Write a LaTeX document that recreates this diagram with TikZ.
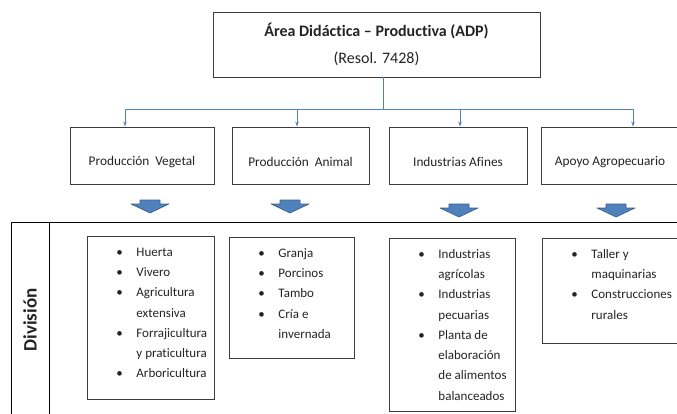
\documentclass[tikz,border=0pt]{standalone}
\usepackage{fontspec}
\setmainfont{Carlito}[Ligatures={NoCommon}]
\usetikzlibrary{arrows.meta}

\definecolor{linkblue}{RGB}{79,129,189}
\definecolor{arrowline}{RGB}{56,93,138}
\definecolor{boxline}{RGB}{60,60,60}
\definecolor{ink}{RGB}{35,35,35}

\newcommand{\bulletbox}[3]{%
  \begin{minipage}[t][#2bp][t]{#1bp}
    \vspace*{5.5bp}\hspace*{29bp}%
    \begin{tabular}[t]{@{}p{20bp}@{}l@{}}#3\end{tabular}%
  \end{minipage}}

\tikzset{
  areabox/.style={draw=boxline, line width=0.9bp, align=center, text=ink,
    font=\fontsize{16bp}{27bp}\selectfont},
  unitbox/.style={draw=boxline, line width=0.9bp, minimum height=57bp,
    text=ink, text height=22bp, font=\fontsize{13.3bp}{16bp}\selectfont},
  listbox/.style={draw=boxline, line width=0.9bp, inner sep=0pt, anchor=north west,
    text=ink, font=\fontsize{13bp}{20.3bp}\selectfont},
  link/.style={draw=linkblue, line width=0.8bp},
  blockarrow/.style={fill=linkblue, draw=arrowline, line width=0.6bp, line join=round},
  rule/.style={draw=black, line width=1bp}
}

\begin{document}
\begin{tikzpicture}[x=1bp, y=-1bp]
\useasboundingbox (0,0) rectangle (677,413);
\clip (0,0) rectangle (677,413);

% top
\node[areabox, minimum width=327bp, minimum height=65bp] (adp) at (376.5,44.5)
  {\textbf{Área Didáctica – Productiva (ADP)}\\(Resol. 7428)};

% units
\node[unitbox, minimum width=144bp] (veg) at (142,155.5) {Producción~ Vegetal};
\node[unitbox, minimum width=137bp] (ani) at (300.5,155.5) {Producción~ Animal};
\node[unitbox, minimum width=138bp] (ind) at (458,155.5) {Industrias Afines};
\node[unitbox, minimum width=138bp] (apo) at (610,155.5) {Apoyo Agropecuario};

% bus
\coordinate (bus) at (383,109);
\coordinate (d1) at (125,109);
\coordinate (d2) at (297,109);
\coordinate (d3) at (460,109);
\coordinate (d4) at (633,109);
\draw[link] (adp.south -| bus) -- (bus);
\draw[link] (d1) -- (d4);
\foreach \d/\u in {d1/veg, d2/ani, d3/ind, d4/apo}
  \draw[link, -{Stealth[length=5bp, width=3.5bp]}] (\d) -- (\d |- \u.north);

% block arrows
\foreach \x/\y in {150/200, 290/200, 459/204, 616/204}
  \filldraw[blockarrow] (\x-10,\y) -- ++(20,0) -- ++(0,4) -- ++(9,0)
    -- (\x,\y+13) -- (\x-19,\y+4) -- ++(9,0) -- cycle;

% table
\draw[rule] (11,420) -- (11,222.5) -- (690,222.5);
\draw[rule] (49,222.5) -- (49,420);
\node[rotate=90, text=ink, font=\bfseries\fontsize{19bp}{19bp}\selectfont] (div) at (30,320) {División};

% lists
\node[listbox] (lveg) at (87,236) {\bulletbox{127}{163}{%
  \textbullet & Huerta\\
  \textbullet & Vivero\\
  \textbullet & Agricultura\\
  & extensiva\\
  \textbullet & Forrajicultura\\
  & y praticultura\\
  \textbullet & Arboricultura}};
\node[listbox] (lani) at (229,237) {\bulletbox{125}{121}{%
  \textbullet & Granja\\
  \textbullet & Porcinos\\
  \textbullet & Tambo\\
  \textbullet & Cría e\\
  & invernada}};
\node[listbox] (lind) at (389,238) {\bulletbox{126}{173}{%
  \textbullet & Industrias\\
  & agrícolas\\
  \textbullet & Industrias\\
  & pecuarias\\
  \textbullet & Planta de\\
  & elaboración\\
  & de alimentos\\
  & balanceados}};
\node[listbox] (lapo) at (542,238) {\bulletbox{150}{105}{%
  \textbullet & Taller y\\
  & maquinarias\\
  \textbullet & Construcciones\\
  & rurales}};
\end{tikzpicture}
\end{document}
